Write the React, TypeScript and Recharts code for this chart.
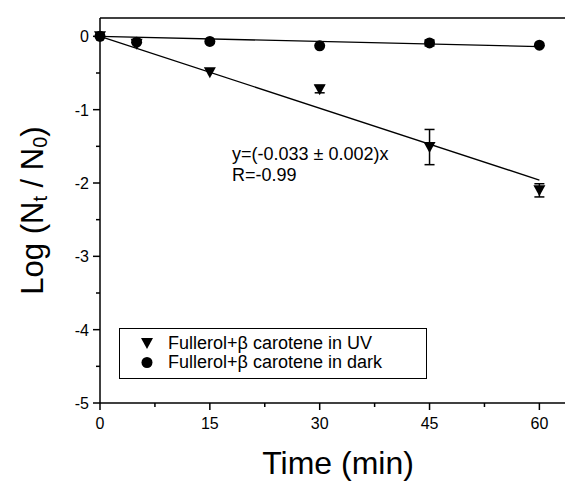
import React from "react";
import { ScatterChart, Scatter, XAxis, YAxis, ErrorBar } from "recharts";

const FONT = "Arial, 'Liberation Sans', Helvetica, sans-serif";

// sampling times (min)
const times = [0, 5, 15, 30, 45, 60];
// Log(Nt/N0) under UV, with standard errors (null = no bar drawn)
const uvLog = [0, -0.1, -0.49, -0.72, -1.51, -2.1];
const uvErr = [null, null, null, 0.05, 0.24, 0.09];
// Log(Nt/N0) kept in the dark
const darkLog = [0, -0.08, -0.07, -0.13, -0.09, -0.12];
const darkErr = [null, null, null, null, 0.04, null];
// linear fits (end points)
const fitTimes = [0, 60];
const uvFit = [0, -1.96];
const darkFit = [0, -0.14];

const xTicks = [0, 7.5, 15, 22.5, 30, 37.5, 45, 52.5, 60];
const yTicks = [-5, -4.5, -4, -3.5, -3, -2.5, -2, -1.5, -1, -0.5, 0];

const uvData = times.map((x, i) => ({ x, y: uvLog[i], err: uvErr[i] }));
const darkData = times.map((x, i) => ({ x, y: darkLog[i], err: darkErr[i] }));
const uvFitData = fitTimes.map((x, i) => ({ x, y: uvFit[i] }));
const darkFitData = fitTimes.map((x, i) => ({ x, y: darkFit[i] }));

const DownTriangle = (props: any) => {
  const { cx, cy } = props;
  return (
    <polygon
      points={`${cx - 6},${cy - 5} ${cx + 6},${cy - 5} ${cx},${cy + 6}`}
      fill="#000"
    />
  );
};

const Dot = (props: any) => <circle cx={props.cx} cy={props.cy} r={5.5} fill="#000" />;

const NoShape = () => <g />;

const BottomTick = (props: any) => {
  const { x, y, payload } = props;
  const major = payload.value % 15 === 0;
  return (
    <g>
      <line x1={x} x2={x} y1={y} y2={y + (major ? 7 : 4)} stroke="#000" strokeWidth={1.5} />
      {major && (
        <text x={x} y={y + 26} textAnchor="middle" fontSize={16} fontFamily={FONT} fill="#000">
          {payload.value}
        </text>
      )}
    </g>
  );
};

const TopTick = (props: any) => {
  const { x, y, payload } = props;
  const major = payload.value % 15 === 0;
  return <line x1={x} x2={x} y1={y} y2={y - (major ? 7 : 4)} stroke="#000" strokeWidth={1.5} />;
};

const LeftTick = (props: any) => {
  const { x, y, payload } = props;
  const major = Number.isInteger(payload.value);
  return (
    <g>
      <line x1={x} x2={x - (major ? 7 : 4)} y1={y} y2={y} stroke="#000" strokeWidth={1.5} />
      {major && (
        <text x={x - 11} y={y + 6} textAnchor="end" fontSize={16} fontFamily={FONT} fill="#000">
          {payload.value}
        </text>
      )}
    </g>
  );
};

const YTitle = (props: any) => {
  const { viewBox } = props;
  const cx = viewBox.x + viewBox.width - 68;
  const cy = viewBox.y + viewBox.height / 2;
  return (
    <text
      x={cx}
      y={cy}
      transform={`rotate(-90 ${cx} ${cy})`}
      textAnchor="middle"
      dominantBaseline="central"
      fontSize={31}
      fontFamily={FONT}
      fill="#000"
    >
      Log (N
      <tspan fontSize={20} dy={8}>t</tspan>
      <tspan dy={-8}> / N</tspan>
      <tspan fontSize={20} dy={8}>0</tspan>
      <tspan dy={-8}>)</tspan>
    </text>
  );
};

const XTitle = (props: any) => {
  const { viewBox } = props;
  return (
    <text
      x={viewBox.x + viewBox.width / 2}
      y={viewBox.y + 71}
      textAnchor="middle"
      fontSize={32}
      fontFamily={FONT}
      fill="#000"
    >
      Time (min)
    </text>
  );
};

const legendRow = { display: "flex", alignItems: "center", height: 19 } as const;

export default function App() {
  return (
    <div style={{ position: "relative", width: 565, height: 473, overflow: "hidden" }}>
      <ScatterChart
        width={568}
        height={473}
        margin={{ top: 9, right: 0, bottom: 77, left: 91 }}
      >
        <XAxis
          type="number"
          dataKey="x"
          domain={[0, 65]}
          ticks={xTicks}
          interval={0}
          height={1}
          tickSize={0}
          tickMargin={0}
          tick={<BottomTick />}
          axisLine={{ stroke: "#000", strokeWidth: 1.5 }}
          label={<XTitle />}
        />
        <XAxis
          xAxisId="top"
          orientation="top"
          type="number"
          dataKey="x"
          domain={[0, 65]}
          ticks={xTicks}
          interval={0}
          height={1}
          tickSize={0}
          tickMargin={0}
          tick={<TopTick />}
          axisLine={{ stroke: "#000", strokeWidth: 1.5 }}
        />
        <YAxis
          type="number"
          dataKey="y"
          domain={[-5, 0.25]}
          ticks={yTicks}
          interval={0}
          width={1}
          tickSize={0}
          tickMargin={0}
          tick={<LeftTick />}
          axisLine={{ stroke: "#000", strokeWidth: 1.5 }}
          label={<YTitle />}
        />
        <Scatter
          data={uvFitData}
          shape={<NoShape />}
          line={{ stroke: "#000", strokeWidth: 1.3 }}
          isAnimationActive={false}
        />
        <Scatter
          data={darkFitData}
          shape={<NoShape />}
          line={{ stroke: "#000", strokeWidth: 1.3 }}
          isAnimationActive={false}
        />
        <Scatter data={darkData} shape={<Dot />} fill="#000" isAnimationActive={false}>
          <ErrorBar dataKey="err" direction="y" width={5} stroke="#000" strokeWidth={1.5} />
        </Scatter>
        <Scatter data={uvData} shape={<DownTriangle />} fill="#000" isAnimationActive={false}>
          <ErrorBar dataKey="err" direction="y" width={5} stroke="#000" strokeWidth={1.5} />
        </Scatter>
      </ScatterChart>

      <div
        style={{
          position: "absolute",
          left: 224,
          top: 136,
          fontFamily: FONT,
          fontSize: 18,
          lineHeight: "21px",
          color: "#000",
          whiteSpace: "nowrap",
        }}
      >
        <div>y=(-0.033 ± 0.002)x</div>
        <div>R=-0.99</div>
      </div>

      <div
        style={{
          position: "absolute",
          left: 111,
          top: 320,
          width: 308,
          height: 51,
          border: "1.5px solid #000",
          fontFamily: FONT,
          fontSize: 18,
          color: "#000",
          padding: "5px 0 0 0",
          boxSizing: "border-box",
        }}
      >
        <div style={legendRow}>
          <svg width={48} height={19}>
            <polygon points="21,4 33,4 27,15" fill="#000" />
          </svg>
          <span>Fullerol+β carotene in UV</span>
        </div>
        <div style={legendRow}>
          <svg width={48} height={19}>
            <circle cx={27} cy={9.5} r={5.5} fill="#000" />
          </svg>
          <span>Fullerol+β carotene in dark</span>
        </div>
      </div>
    </div>
  );
}
